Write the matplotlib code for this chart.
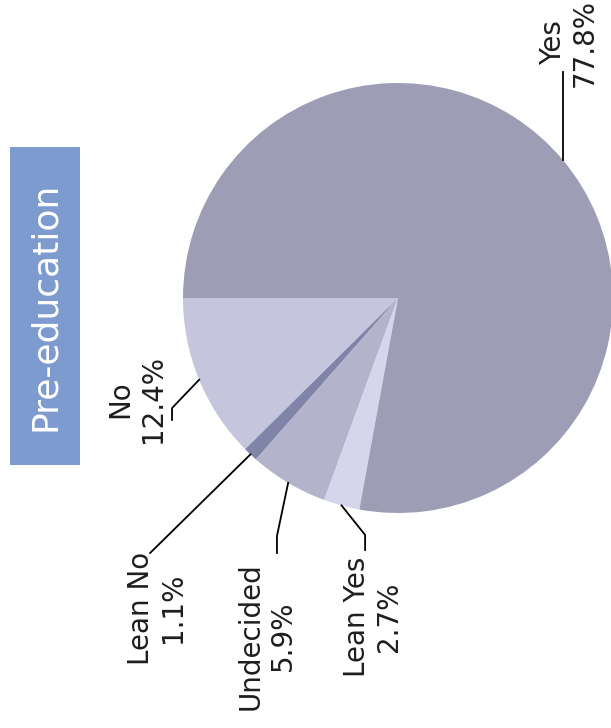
import numpy as np
import matplotlib
matplotlib.use("Agg")
import matplotlib.pyplot as plt
from matplotlib.patches import Rectangle

# slices in drawing order (counter-clockwise from 9 o'clock)
labels = ["No", "Lean No", "Undecided", "Lean Yes", "Yes"]
values = [12.4, 1.1, 5.9, 2.7, 77.8]
colors = ["#c5c5dd", "#7f84a8", "#b3b3cc", "#d5d5ec", "#9d9db5"]
title = "Pre-education"

# label text centre and leader elbow, in pie-axes data units (radius 1)
text_pos = {
    "Yes": (0.795, 1.186),
    "No": (-1.215, -0.47),
    "Lean No": (-1.121, -1.442),
    "Undecided": (-0.610, -1.572),
    "Lean Yes": (-0.116, -1.484),
}
leader_pts = {
    "Yes": [(None, 1.05)],
    "No": [(-1.051, -0.512), (-1.051, -0.567)],
    "Lean No": [(-1.153, -1.186)],
    "Undecided": [(-0.563, -1.107), (-0.563, -1.186)],
    "Lean Yes": [(-0.153, -1.102), (-0.153, -1.172)],
}

W, H = 611, 728
fig = plt.figure(figsize=(W / 100, H / 100), dpi=100)

cx, cy, R = 398, 298, 215
ax = fig.add_axes([(cx - R) / W, 1 - (cy + R) / H, 2 * R / W, 2 * R / H])
wedges, _ = ax.pie(values, colors=colors, startangle=180, counterclock=True,
                   radius=1, wedgeprops=dict(linewidth=0))
ax.set_xlim(-1, 1)
ax.set_ylim(-1, 1)
ax.axis("off")

for w, lab, v in zip(wedges, labels, values):
    ang = np.deg2rad((w.theta1 + w.theta2) / 2)
    x0, y0 = np.cos(ang), np.sin(ang)
    xs, ys = [x0], [y0]
    for px, py in leader_pts[lab]:
        xs.append(x0 if px is None else px)
        ys.append(py)
    ax.plot(xs, ys, color="black", lw=1.3, clip_on=False)
    tx, ty = text_pos[lab]
    ax.text(tx, ty, f"{lab}\n{v}%", rotation=90, ha="center", va="center",
            fontsize=20, color="#1e1e1e", linespacing=1.2, clip_on=False)

# rotated title box
fig.patches.append(Rectangle((10 / W, 1 - 465 / H), 70 / W, 318 / H,
                             transform=fig.transFigure, facecolor="#7d9bcf",
                             edgecolor="none"))
fig.text(45 / W, 1 - 306 / H, title, rotation=90, ha="center", va="center",
         fontsize=26, color="white")

fig.savefig("out.png", dpi=100)
